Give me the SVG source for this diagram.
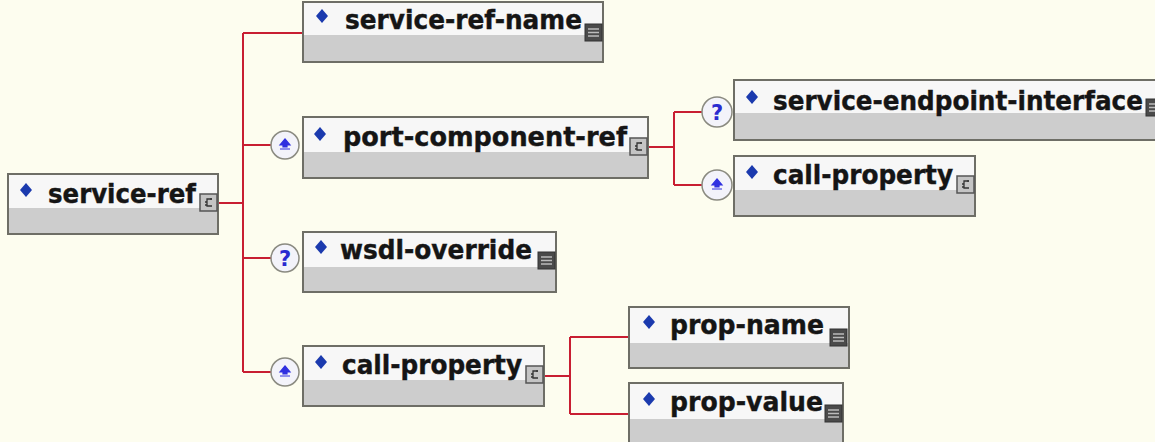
<svg xmlns="http://www.w3.org/2000/svg" xmlns:xlink="http://www.w3.org/1999/xlink" width="1155" height="442" viewBox="0 0 1155 442">
<style>
.bg{fill:#fdfdef}
.box{fill:#cdcdcd;stroke:#6e6e66;stroke-width:2}
.top{fill:#f7f7f7}
.t{font-family:"DejaVu Sans","Liberation Sans",sans-serif;font-weight:bold;font-size:26px;fill:#151515;stroke:#151515;stroke-width:0.4}
.con{fill:none;stroke:#c81e32;stroke-width:2}
.occ{fill:#f3f3fa;stroke:#8a8a80;stroke-width:1.5}
.q{font-family:"DejaVu Sans","Liberation Sans",sans-serif;font-weight:bold;font-size:21px;fill:#2a2ad0}
.dia{fill:#1b3aae}
</style>
<defs>
<path id="dia" class="dia" d="M0,-7 L6,0 L0,7 L-6,0 Z"/>
<g id="cx">
<rect x="0" y="0" width="17" height="17" fill="#c4c4c4" stroke="#555" stroke-width="1.5"/>
<path d="M12,5 H7 V12 H12 M5,8 H7 M5,11 H7 M11,4 V6" fill="none" stroke="#333" stroke-width="1.3"/>
</g>
<g id="sm">
<rect x="0" y="0" width="17" height="17" fill="#4a4a4a" stroke="#333" stroke-width="1"/>
<path d="M3,5 H14 M3,8.5 H14 M3,12 H14" stroke="#bbb" stroke-width="1.3"/>
</g>
<g id="star">
<path d="M0,-6 L5,0 L2,0 L2,2 L-2,2 L-2,0 L-5,0 Z M-5,4 H5" fill="#3030e0" stroke="#3030e0" stroke-width="1.2"/>
</g>
</defs>
<rect class="bg" x="0" y="0" width="1155" height="442"/>
<g id="connectors">
<path class="con" d="M218,203 H243 M243,33 V372 M243,33 H303 M243,145 H271 M243,258 H271 M243,372 H271"/>
<path class="con" d="M648,147 H674 M674,112 V185 M674,112 H702 M674,185 H702"/>
<path class="con" d="M544,376 H570 M570,337 V414 M570,337 H629 M570,414 H629"/>
</g>
<g id="occ-port"><circle class="occ" cx="285" cy="145" r="14"/><use xlink:href="#star" x="285" y="145"/></g>
<g id="occ-wsdl"><circle class="occ" cx="285" cy="258" r="14"/><text class="q" x="285" y="266" text-anchor="middle">?</text></g>
<g id="occ-call"><circle class="occ" cx="285" cy="372" r="14"/><use xlink:href="#star" x="285" y="372"/></g>
<g id="occ-sei"><circle class="occ" cx="717" cy="112" r="15"/><text class="q" x="717" y="120" text-anchor="middle">?</text></g>
<g id="occ-call2"><circle class="occ" cx="717" cy="185" r="15"/><use xlink:href="#star" x="717" y="185"/></g>
<g id="n-service-ref">
<rect class="box" x="8" y="174" width="210" height="60"/><rect class="top" x="9" y="175" width="208" height="33"/>
<use xlink:href="#dia" x="26" y="190"/>
<text class="t" x="48" y="203" textLength="148" lengthAdjust="spacingAndGlyphs">service-ref</text>
<use xlink:href="#cx" x="200" y="194"/>
</g>
<g id="n-service-ref-name">
<rect class="box" x="303" y="2" width="300" height="60"/><rect class="top" x="304" y="3" width="298" height="32"/>
<use xlink:href="#dia" x="322" y="16"/>
<text class="t" x="345" y="29" textLength="237" lengthAdjust="spacingAndGlyphs">service-ref-name</text>
<use xlink:href="#sm" x="585" y="24"/>
</g>
<g id="n-port-component-ref">
<rect class="box" x="303" y="117" width="345" height="61"/><rect class="top" x="304" y="118" width="343" height="34"/>
<use xlink:href="#dia" x="320" y="134"/>
<text class="t" x="343" y="146" textLength="284" lengthAdjust="spacingAndGlyphs">port-component-ref</text>
<use xlink:href="#cx" x="630" y="138"/>
</g>
<g id="n-service-endpoint-interface">
<rect class="box" x="734" y="80" width="430" height="60"/><rect class="top" x="735" y="81" width="428" height="32"/>
<use xlink:href="#dia" x="752" y="97"/>
<text class="t" x="773" y="110" textLength="370" lengthAdjust="spacingAndGlyphs">service-endpoint-interface</text>
<use xlink:href="#sm" x="1146" y="99"/>
</g>
<g id="n-call-property-2">
<rect class="box" x="734" y="156" width="241" height="60"/><rect class="top" x="735" y="157" width="239" height="33"/>
<use xlink:href="#dia" x="752" y="172"/>
<text class="t" x="773" y="184" textLength="180" lengthAdjust="spacingAndGlyphs">call-property</text>
<use xlink:href="#cx" x="957" y="176"/>
</g>
<g id="n-wsdl-override">
<rect class="box" x="303" y="232" width="253" height="60"/><rect class="top" x="304" y="233" width="251" height="34"/>
<use xlink:href="#dia" x="321" y="247"/>
<text class="t" x="340" y="259" textLength="192" lengthAdjust="spacingAndGlyphs">wsdl-override</text>
<use xlink:href="#sm" x="538" y="252"/>
</g>
<g id="n-call-property">
<rect class="box" x="303" y="346" width="241" height="60"/><rect class="top" x="304" y="347" width="239" height="33"/>
<use xlink:href="#dia" x="321" y="362"/>
<text class="t" x="342" y="374" textLength="180" lengthAdjust="spacingAndGlyphs">call-property</text>
<use xlink:href="#cx" x="526" y="366"/>
</g>
<g id="n-prop-name">
<rect class="box" x="629" y="307" width="220" height="61"/><rect class="top" x="630" y="308" width="218" height="35"/>
<use xlink:href="#dia" x="649" y="322"/>
<text class="t" x="670" y="334" textLength="154" lengthAdjust="spacingAndGlyphs">prop-name</text>
<use xlink:href="#sm" x="830" y="329"/>
</g>
<g id="n-prop-value">
<rect class="box" x="629" y="383" width="214" height="70"/><rect class="top" x="630" y="384" width="212" height="35"/>
<use xlink:href="#dia" x="649" y="399"/>
<text class="t" x="670" y="411" textLength="153" lengthAdjust="spacingAndGlyphs">prop-value</text>
<use xlink:href="#sm" x="825" y="405"/>
</g>
</svg>
